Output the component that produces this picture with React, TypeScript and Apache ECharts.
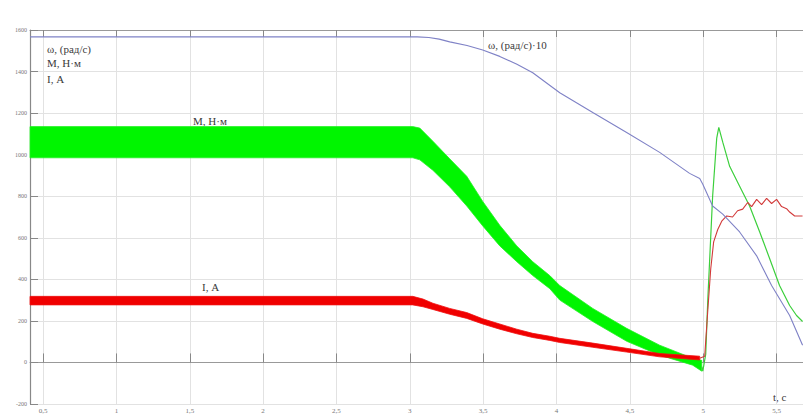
import React, { useEffect, useRef } from "react";
import * as echarts from "echarts";

// Time ticks (s)
const xTicks = [0.5, 1, 1.5, 2, 2.5, 3, 3.5, 4, 4.5, 5, 5.5];

// M (torque) oscillation band envelope, N·m
const greenBandT = [0.411, 3.02, 3.068, 3.157, 3.272, 3.388, 3.497, 3.613, 3.729, 3.838, 3.954, 4.022, 4.247, 4.478, 4.703, 4.928, 4.99];
const greenLow = [985, 985, 975, 925, 845, 753, 657, 561, 485, 418, 355, 300, 197, 102, 35, -13, -42];
const greenHigh = [1135, 1135, 1128, 1065, 980, 896, 775, 660, 561, 485, 418, 370, 260, 164, 83, 20, 10];

// M after t = 5 s
const greenT = [4.99, 4.997, 5.017, 5.031, 5.064, 5.092, 5.106, 5.133, 5.18, 5.248, 5.316, 5.385, 5.453, 5.52, 5.589, 5.636, 5.677];
const greenM = [-20, -42, 40, 300, 800, 1080, 1131, 1060, 944, 848, 753, 628, 499, 370, 274, 226, 197];

// I (current) oscillation band envelope, A
const redBandT = [0.411, 3.02, 3.09, 3.157, 3.272, 3.388, 3.497, 3.613, 3.729, 3.838, 3.954, 4.022, 4.247, 4.478, 4.703, 4.976];
const redLow = [277, 277, 268, 255, 232, 212, 185, 160, 138, 120, 106, 96, 73, 50, 27, 12];
const redHigh = [318, 318, 305, 285, 260, 240, 210, 185, 160, 140, 126, 116, 93, 68, 43, 30];

// I after t = 5 s
const redT = [4.976, 5.01, 5.031, 5.051, 5.071, 5.099, 5.126, 5.16, 5.2, 5.234, 5.269, 5.303, 5.33, 5.364, 5.398, 5.432, 5.466, 5.5, 5.534, 5.568, 5.589, 5.623, 5.677];
const redI = [20, 30, 250, 450, 580, 640, 680, 705, 700, 730, 738, 770, 750, 785, 760, 790, 765, 785, 750, 740, 724, 705, 705];

// ω·10 (rad/s)
const omegaT = [0.411, 3.05, 3.13, 3.2, 3.272, 3.39, 3.497, 3.613, 3.73, 3.838, 4.022, 4.247, 4.478, 4.703, 4.907, 4.976, 4.997, 5.064, 5.133, 5.248, 5.364, 5.466, 5.589, 5.677];
const omega = [1567, 1567, 1564, 1556, 1543, 1525, 1504, 1473, 1435, 1394, 1298, 1203, 1107, 1011, 910, 885, 858, 753, 714, 628, 513, 370, 226, 83];

const zip = (t: number[], v: number[]) => t.map((x, i) => [x, v[i]]);

function bandSeries(t: number[], low: number[], high: number[], fill: string, stroke: string) {
  return {
    type: "custom",
    silent: true,
    data: [[t[0], low[0]]],
    renderItem: (_params: any, api: any) => {
      const upper = t.map((x, i) => api.coord([x, high[i]]));
      const lower = t.map((x, i) => api.coord([x, low[i]])).reverse();
      return {
        type: "polygon",
        shape: { points: upper.concat(lower) },
        style: { fill, stroke, lineWidth: 0.8 },
      };
    },
  };
}

export default function App() {
  const ref = useRef<HTMLDivElement>(null);
  useEffect(() => {
    if (!ref.current) return;
    const chart = echarts.init(ref.current, undefined, { renderer: "svg" });
    const fmt = (v: number) => String(v).replace(".", ",");
    const textStyleBase = { fontFamily: "Liberation Serif", fontSize: 11, fill: "#3a3a3a" };
    chart.setOption({
      animation: false,
      backgroundColor: "#ffffff",
      grid: { left: 30, right: 0, top: 30, bottom: 8 },
      xAxis: [
        {
          type: "value",
          min: 0.411,
          max: 5.68,
          position: "bottom",
          axisLine: { show: true, lineStyle: { color: "#999", width: 1 } },
          axisTick: { show: true, inside: true, length: 9, customValues: xTicks, lineStyle: { color: "#888" } },
          axisLabel: {
            show: true,
            customValues: xTicks,
            formatter: fmt,
            fontSize: 7,
            color: "#777",
            margin: 3,
            fontFamily: "Liberation Serif",
          },
          splitLine: { show: true, customValues: xTicks, lineStyle: { color: "#e2e2e2", width: 1 } },
        },
        {
          type: "value",
          min: 0.411,
          max: 5.68,
          position: "top",
          axisLine: { show: true, lineStyle: { color: "#999", width: 1 } },
          axisTick: { show: true, inside: true, length: 7, customValues: xTicks, lineStyle: { color: "#888" } },
          axisLabel: { show: false },
          splitLine: { show: false },
        },
      ],
      yAxis: {
        type: "value",
        min: -200,
        max: 1600,
        interval: 200,
        axisLine: { show: true, lineStyle: { color: "#888", width: 1.2 } },
        axisTick: { show: true, inside: true, length: 8, lineStyle: { color: "#888" } },
        axisLabel: {
          fontSize: 6,
          color: "#777",
          margin: 3,
          fontFamily: "Liberation Serif",
          formatter: (v: number) => String(v),
        },
        splitLine: { show: true, lineStyle: { color: "#e2e2e2", width: 1 } },
      },
      series: [
        bandSeries(greenBandT, greenLow, greenHigh, "#00f500", "#22f022"),
        {
          type: "line",
          data: zip(greenT, greenM),
          symbol: "none",
          lineStyle: { width: 1.2, color: "#3ccf3c" },
          silent: true,
        },
        bandSeries(redBandT, redLow, redHigh, "#f00000", "#f01010"),
        {
          type: "line",
          data: zip(redT, redI),
          symbol: "none",
          lineStyle: { width: 1.1, color: "#d23a3a" },
          silent: true,
        },
        {
          type: "line",
          data: zip(omegaT, omega),
          symbol: "none",
          lineStyle: { width: 1.1, color: "#7f82c6" },
          silent: true,
        },
      ],
      graphic: [
        { type: "text", left: 47, top: 43, style: { ...textStyleBase, text: "ω, (рад/с)" } },
        { type: "text", left: 47, top: 57, style: { ...textStyleBase, text: "M, Н·м" } },
        { type: "text", left: 47, top: 73, style: { ...textStyleBase, text: "I, А" } },
        { type: "text", left: 488, top: 39, style: { ...textStyleBase, text: "ω, (рад/с)·10" } },
        { type: "text", left: 193, top: 115, style: { ...textStyleBase, text: "M, Н·м" } },
        { type: "text", left: 202, top: 281, style: { ...textStyleBase, text: "I, А" } },
        { type: "text", left: 773, top: 391, style: { ...textStyleBase, text: "t, c" } },
      ],
    });
    return () => chart.dispose();
  }, []);
  return (
    <div
      ref={ref}
      style={{ position: "fixed", left: 0, top: 0, width: 803, height: 414, background: "#fff" }}
    />
  );
}
